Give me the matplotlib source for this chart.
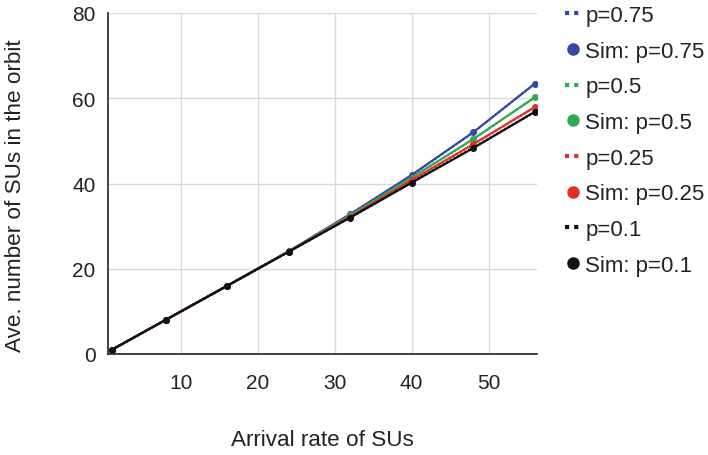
import matplotlib
matplotlib.use("Agg")
import matplotlib.pyplot as plt
from matplotlib.lines import Line2D

plt.rcParams['font.family'] = ['Liberation Sans', 'DejaVu Sans']

# Dados
arrival = [1, 8, 16, 24, 32, 40, 48, 56]
p_labels = ['0.75', '0.5', '0.25', '0.1']
ana_075 = [1, 8, 16, 24.1, 32.8, 41.9, 52.0, 63.4]
ana_05 = [1, 8, 16, 24.0, 32.5, 41.3, 50.4, 60.2]
ana_025 = [1, 8, 16, 24.0, 32.2, 40.7, 49.2, 57.9]
ana_01 = [1, 8, 16, 24.0, 32.0, 40.2, 48.4, 56.8]
sim_075 = [1, 8, 16, 24.1, 32.8, 42.0, 52.0, 63.4]
sim_05 = [1, 8, 16, 24.0, 32.5, 41.4, 50.4, 60.2]
sim_025 = [1, 8, 16, 24.0, 32.2, 40.8, 49.2, 57.9]
sim_01 = [1, 8, 16, 24.0, 32.0, 40.2, 48.3, 56.8]

cores = ['#3448a8', '#33a852', '#e0302a', '#111111']
analitico = [ana_075, ana_05, ana_025, ana_01]
simulado = [sim_075, sim_05, sim_025, sim_01]

fig = plt.figure(figsize=(7.08, 4.56), dpi=100)
ax = fig.add_axes([108 / 708, 1 - 355 / 456, (537 - 108) / 708, (355 - 14) / 456])

for ana, sim, c in zip(analitico, simulado, cores):
    ax.plot(arrival, ana, color=c, linestyle=(0, (1, 1)), linewidth=1.5)
    ax.plot(arrival, sim, color=c, linewidth=1.6, marker='o', markersize=4)

ax.set_xlim(0.5, 56.3)
ax.set_ylim(0, 80)
ax.set_xticks([10, 20, 30, 40, 50])
ax.set_yticks([0, 20, 40, 60, 80])
ax.grid(color='#d9d9d9', linewidth=1)
ax.set_axisbelow(True)
for s in ['top', 'right']:
    ax.spines[s].set_visible(False)
for s in ['left', 'bottom']:
    ax.spines[s].set_color('#222222')
    ax.spines[s].set_linewidth(1.2)
ax.tick_params(length=0, labelsize=15, colors='#222222', pad=9)
ax.tick_params(axis='x', pad=14)

ax.set_xlabel('Arrival rate of SUs', fontsize=16.2, color='#222222', labelpad=26)
ax.set_ylabel('Ave. number of SUs in the orbit', fontsize=16.2, color='#222222')
ax.yaxis.set_label_coords(-0.19, 0.466)

# Legenda
handles = []
labels = []
for p, c in zip(p_labels, cores):
    handles.append(Line2D([0], [0], color=c, linestyle=(0, (1, 1.2)), linewidth=3))
    labels.append('p=' + p)
    handles.append(Line2D([0], [0], color=c, linestyle='none', marker='o', markersize=8))
    labels.append('Sim: p=' + p)

fig.legend(handles, labels, loc='upper left', bbox_to_anchor=(545 / 708, 1 + 14 / 456),
           frameon=False, fontsize=16, handlelength=0.7, handletextpad=0.22,
           labelspacing=0.66, labelcolor='#222222')

plt.savefig('out.png', dpi=100)
plt.close()
